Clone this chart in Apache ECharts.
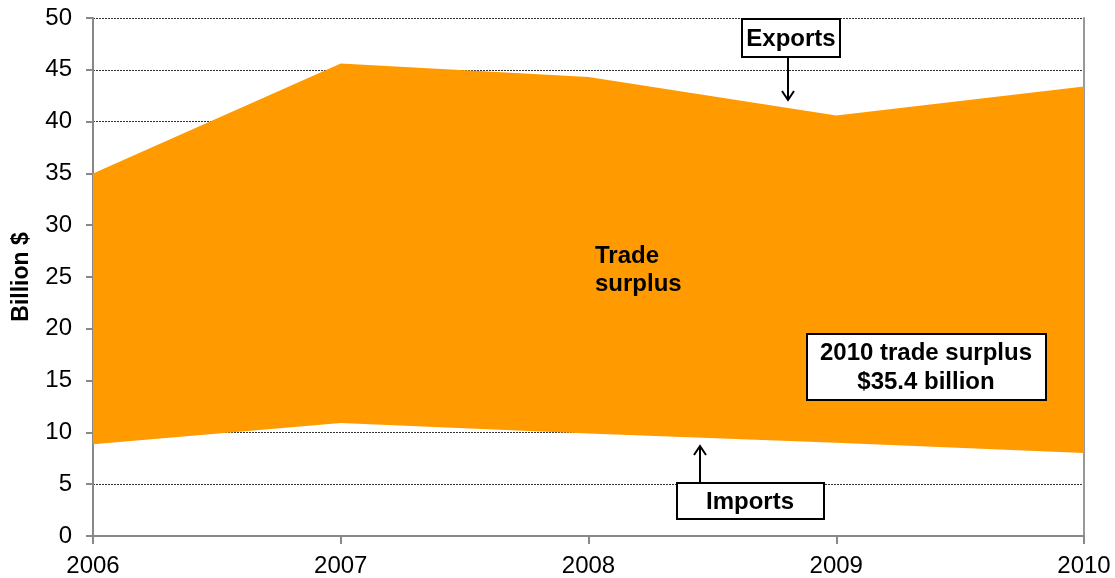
<!DOCTYPE html>
<html>
<head>
<meta charset="utf-8">
<script src="https://cdn.jsdelivr.net/npm/echarts@6/dist/echarts.min.js"></script>
<style>
html,body{margin:0;padding:0;background:#fff;}
#chart{width:1115px;height:578px;}
</style>
</head>
<body>
<div id="chart"></div>
<script>
const years = ['2006', '2007', '2008', '2009', '2010'];
const exportsVals = [35.0, 45.6, 44.3, 40.6, 43.4];
const importsVals = [8.85, 10.9, 9.9, 9.0, 8.0];
const yTicks = [0, 5, 10, 15, 20, 25, 30, 35, 40, 45, 50];

const surplus = exportsVals.map((v, i) => +(v - importsVals[i]).toFixed(2));

const FONT = '"Liberation Sans", Arial, sans-serif';
const ORANGE = '#FF9A00';

const chart = echarts.init(document.getElementById('chart'), null, {renderer: 'canvas'});

function arrow(x, y1, y2) {
  const dir = y2 > y1 ? 1 : -1;
  return [
    {type: 'line', shape: {x1: x, y1: y1, x2: x, y2: y2}, style: {stroke: '#000', lineWidth: 2}, z: 100},
    {type: 'polyline', shape: {points: [[x - 6, y2 - dir * 9], [x, y2], [x + 6, y2 - dir * 9]]}, style: {stroke: '#000', lineWidth: 2, fill: null}, z: 100}
  ];
}

const option = {
  animation: false,
  backgroundColor: '#fff',
  grid: {left: 93, right: 31, top: 18, bottom: 42, containLabel: false, outerBoundsMode: 'none'},
  xAxis: {
    type: 'category',
    data: years,
    boundaryGap: false,
    axisLine: {show: true, lineStyle: {color: '#888', width: 2}},
    axisTick: {show: true, alignWithLabel: true, length: 8, lineStyle: {color: '#888', width: 2}},
    axisLabel: {color: '#000', fontFamily: FONT, fontSize: 24, margin: 18},
    splitLine: {show: false}
  },
  yAxis: [{
    type: 'value',
    min: 0, max: 50, interval: 5,
    name: 'Billion $',
    nameLocation: 'middle',
    nameGap: 60,
    nameRotate: 90,
    nameTextStyle: {color: '#000', fontFamily: FONT, fontSize: 23, fontWeight: 'bold'},
    axisLine: {show: true, lineStyle: {color: '#888', width: 2}},
    axisTick: {show: true, length: 7, lineStyle: {color: '#888', width: 2}},
    axisLabel: {color: '#000', fontFamily: FONT, fontSize: 24, margin: 21,
      formatter: v => yTicks.indexOf(v) >= 0 ? String(v) : ''},
    splitLine: {show: true, lineStyle: {color: '#333', type: [2, 1], width: 1}}
  }, {
    type: 'value',
    min: 0, max: 50, interval: 5,
    position: 'right',
    axisLine: {show: true, lineStyle: {color: '#999', width: 2}},
    axisTick: {show: false},
    axisLabel: {show: false},
    splitLine: {show: false}
  }],
  series: [{
    name: 'Imports',
    type: 'line',
    stack: 'trade',
    data: importsVals,
    symbol: 'none',
    lineStyle: {width: 0, opacity: 0},
    areaStyle: {opacity: 0},
    z: 2
  }, {
    name: 'Trade surplus',
    type: 'line',
    stack: 'trade',
    data: surplus,
    symbol: 'none',
    lineStyle: {width: 0, opacity: 0},
    areaStyle: {color: ORANGE, opacity: 1},
    z: 3
  }],
  graphic: [
    {type: 'rect', shape: {x: 742, y: 19, width: 98, height: 38}, style: {fill: '#fff', stroke: '#000', lineWidth: 2}, z: 100},
    {type: 'text', x: 791, y: 39, style: {text: 'Exports', fill: '#000', font: 'bold 24px ' + FONT, align: 'center', verticalAlign: 'middle'}, z: 101},
    ...arrow(788, 57, 100),
    {type: 'rect', shape: {x: 677, y: 483, width: 147, height: 36}, style: {fill: '#fff', stroke: '#000', lineWidth: 2}, z: 100},
    {type: 'text', x: 750, y: 502, style: {text: 'Imports', fill: '#000', font: 'bold 24px ' + FONT, align: 'center', verticalAlign: 'middle'}, z: 101},
    ...arrow(700, 483, 446),
    {type: 'text', x: 595, y: 270, style: {text: 'Trade\nsurplus', fill: '#000', font: 'bold 24px ' + FONT, lineHeight: 28, align: 'left', verticalAlign: 'middle'}, z: 101},
    {type: 'rect', shape: {x: 807, y: 334, width: 239, height: 66}, style: {fill: '#fff', stroke: '#000', lineWidth: 2}, z: 100},
    {type: 'text', x: 926, y: 368, style: {text: '2010 trade surplus\n$35.4 billion', fill: '#000', font: 'bold 24px ' + FONT, lineHeight: 29, align: 'center', verticalAlign: 'middle'}, z: 101}
  ]
};
chart.setOption(option);
</script>
</body>
</html>
